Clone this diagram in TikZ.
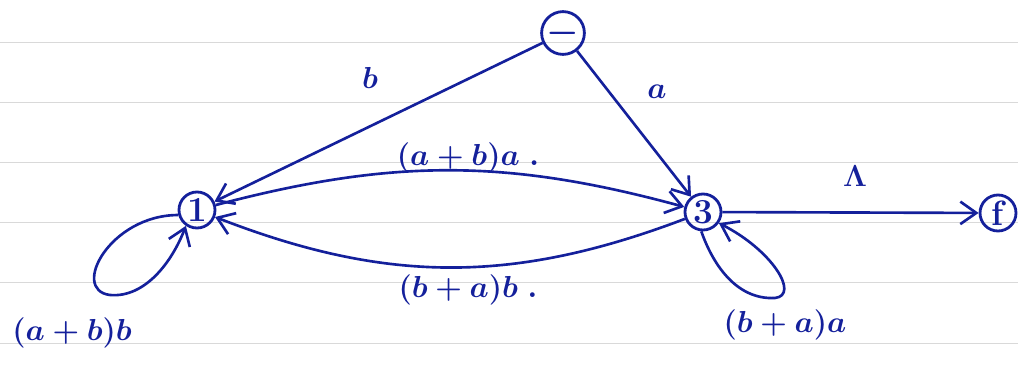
\documentclass[tikz,border=0pt]{standalone}
\usepackage{amsmath}
\usetikzlibrary{arrows.meta}
\definecolor{ink}{RGB}{20,32,155}
\tikzset{
  stnode/.style={circle, draw=ink, line width=1.6pt, minimum size=0.72cm, inner sep=0pt, text=ink, font=\fontsize{20}{22}\selectfont\bfseries\boldmath},
  edge/.style={draw=ink, line width=1.5pt, -{Straight Barb[length=3.2mm,width=4.5mm]}},
  lbl/.style={text=ink, font=\fontsize{18}{22}\selectfont\boldmath},
  ruled/.style={gray!30, line width=0.5pt}
}

\begin{document}
\begin{tikzpicture}[x=0.02cm, y=-0.02cm]
    \useasboundingbox (0,0) rectangle (1018,365);
    % ruled paper
    \foreach \yy in {42,102,162,222,282,343}
      \draw[ruled] (0,\yy) -- (1018,\yy);

    % states
    \node[stnode] (nstart) at (563,33) {$-$};
    \node[stnode] (n1) at (197,210) {1};
    \node[stnode] (n3) at (703,212) {3};
    \node[stnode] (nf) at (998,213) {f};

    % transitions
    \draw[edge] (nstart) -- (n1);
    \draw[edge] (nstart) -- (n3);
    \draw[edge] (n1) to[bend left=15] (n3);
    \draw[edge] (n3) to[bend left=21] (n1);
    \draw[edge] (n3) -- (nf);
    \draw[edge] (n1.195) .. controls (110,215) and (70,290) .. (110,295)
                         .. controls (145,298) and (172,262) .. (n1.235);
    \draw[edge] (n3.265) .. controls (712,262) and (735,300) .. (775,298)
                         .. controls (800,295) and (772,250) .. (n3.-35);

    % labels
    \node[lbl] (lb) at (370,78) {$b$};
    \node[lbl] (la) at (657,92) {$a$};
    \node[lbl] (lup) at (468,158) {$(a+b)a\;.$};
    \node[lbl] (llow) at (468,290) {$(b+a)b\;.$};
    \node[lbl] (llam) at (855,176) {$\Lambda$};
    \node[lbl] (lloop1) at (72,333) {$(a+b)b$};
    \node[lbl] (lloop3) at (785,325) {$(b+a)a$};
\end{tikzpicture}
\end{document}
